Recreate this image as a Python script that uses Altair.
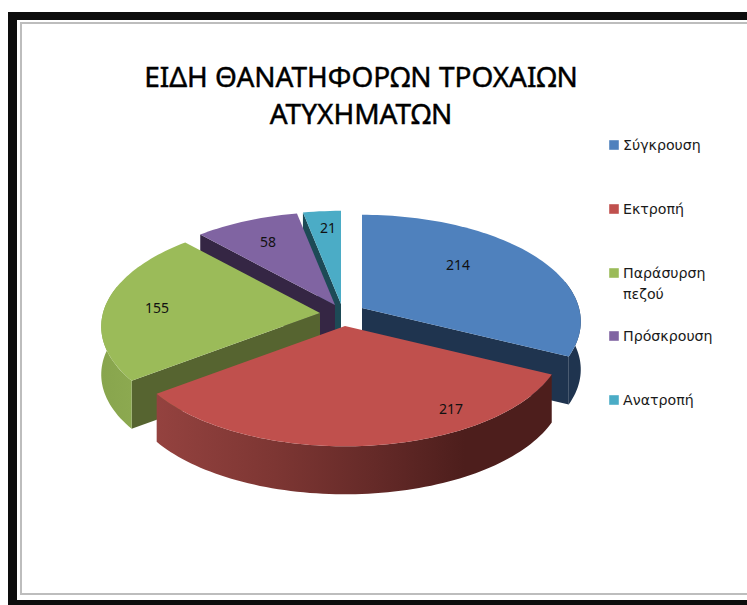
import math
import altair as alt

# Fatal road accidents by type
categories = ["Σύγκρουση", "Εκτροπή", "Παράσυρση\nπεζού", "Πρόσκρουση", "Ανατροπή"]
values = [214, 217, 155, 58, 21]
top_colors = ["#4F81BD", "#C0504D", "#9BBB59", "#8064A2", "#4BACC6"]
side_colors = ["#1F344F", "#4D1E1C", "#566430", "#352644", "#1D4A56"]

title_lines = ["ΕΙΔΗ ΘΑΝΑΤΗΦΟΡΩΝ ΤΡΟΧΑΙΩΝ", "ΑΤΥΧΗΜΑΤΩΝ"]

# Pie layout: each exploded slice has its own apex on the page
apex = [(362, 308), (345, 326), (320, 313), (335, 305), (341, 304)]
RADIUS_X, RADIUS_Y, PERSPECTIVE, DEPTH = 217, 105, 0.127, 48
draw_order = [4, 3, 2, 0, 1]
# Which radial cut face is visible: "start", "end" or nothing
cut_face = {0: "end", 2: "start", 3: "start", 4: "start"}

# Value labels and legend rows, in page pixels
label_x = [458, 451, 157, 268, 328]
label_y = [266, 410, 309, 243, 229]
legend_y = [145, 209, 273, 336, 400]

W, H = 747, 605

total = sum(values)
bounds = [0.0]
for v in values:
    bounds.append(bounds[-1] + v / total * 360)


def rim(i, deg, drop=0):
    """Project a rim point of slice i from the pie plane onto the page."""
    t = math.radians(deg)
    px, py = math.sin(t), -math.cos(t)
    s = 1 / (1 - PERSPECTIVE * py)
    return [apex[i][0] + RADIUS_X * px * s, apex[i][1] + RADIUS_Y * py * s + drop]


def arc(i, a, b, drop=0):
    n = max(2, int(abs(b - a) / 1.5))
    return [rim(i, a + (b - a) * k / n, drop) for k in range(n + 1)]


def polygon(points):
    ring = [[x, y] for x, y in points]
    ring.append(ring[0])
    return {"type": "Feature", "properties": {},
            "geometry": {"type": "Polygon", "coordinates": [ring]}}


def shape(points, color):
    return (
        alt.Chart(alt.Data(values=[polygon(points)]))
        .mark_geoshape(color=color)
        .project(type="identity", scale=1, translate=[0, 0])
    )


def sweep(stops):
    return alt.LinearGradient(
        gradient="linear", x1=0, x2=1, y1=0, y2=0,
        stops=[alt.GradientStop(offset=o, color=c) for o, c in stops],
    )


# Outer walls are shaded from the lit left side to the dark right side
wall_fill = {
    0: "#1F344F",
    1: sweep([(0, "#94423F"), (0.3, "#7D3633"), (0.55, "#652A28"), (0.78, "#4D1E1C"), (1, "#4D1E1C")]),
    2: sweep([(0, "#88A54D"), (1, "#8CA950")]),
}

layers = []

# Picture frame behind the chart
frame = alt.Data(values=[{"k": 0}])
for x0, y0, y1, col in [(8, 12, 605, "#0d0d0d"), (17, 20, 600, "#ffffff"),
                        (20, 22, 595, "#bdbdbd"), (22, 24, 593, "#ffffff")]:
    layers.append(alt.Chart(frame).mark_rect(color=col).encode(
        x=alt.value(x0), x2=alt.value(W), y=alt.value(y0), y2=alt.value(y1)))

for i in draw_order:
    a, b = bounds[i], bounds[i + 1]
    # Cut face
    side = cut_face.get(i)
    if side:
        deg = a if side == "start" else b
        corner = rim(i, deg)
        points = [list(apex[i]), corner, [corner[0], corner[1] + DEPTH], [apex[i][0], apex[i][1] + DEPTH]]
        layers.append(shape(points, side_colors[i]))
    # Outer wall: the front of the rim, out past the silhouette at either side
    w0, w1 = max(a, 75), min(b, 285)
    if w1 > w0:
        points = arc(i, w0, w1) + arc(i, w1, w0, DEPTH)
        layers.append(shape(points, wall_fill[i]))
    # Top surface
    layers.append(shape([list(apex[i])] + arc(i, a, b), top_colors[i]))

# Value labels
labels = alt.Data(values=[{"v": v, "x": x, "y": y} for v, x, y in zip(values, label_x, label_y)])
layers.append(alt.Chart(labels).mark_text(font="Noto Sans", fontSize=14, color="#111111").encode(
    x=alt.X("x:Q", scale=None), y=alt.Y("y:Q", scale=None), text="v:Q"))

# Legend
legend = alt.Data(values=[{"name": n, "y": y, "color": c}
                          for n, y, c in zip(categories, legend_y, top_colors)])
layers.append(alt.Chart(legend).mark_square(size=92, opacity=1).encode(
    x=alt.value(614), y=alt.Y("y:Q", scale=None), color=alt.Color("color:N", scale=None)))
layers.append(alt.Chart(legend).mark_text(
    font="DejaVu Sans", fontSize=14.2, color="#1a1a1a", align="left", baseline="alphabetic",
    lineBreak="\n", lineHeight=21, dy=5).encode(
    x=alt.value(623), y=alt.Y("y:Q", scale=None), text="name:N"))

# Title
heading = alt.Data(values=[{"t": t, "y": y} for t, y in zip(title_lines, [87, 124])])
layers.append(alt.Chart(heading).mark_text(
    font="Noto Sans", fontSize=28, color="#000000", stroke="#000000", strokeWidth=0.45,
    align="center", baseline="alphabetic").encode(
    x=alt.value(361), y=alt.Y("y:Q", scale=None), text="t:N"))

chart = alt.layer(*layers).properties(
    width=W, height=H, padding=0, autosize=alt.AutoSizeParams(type="none"), background="#ffffff"
).configure_view(stroke=None)

chart.save("out.html", embed_options={"renderer": "svg", "actions": False})
